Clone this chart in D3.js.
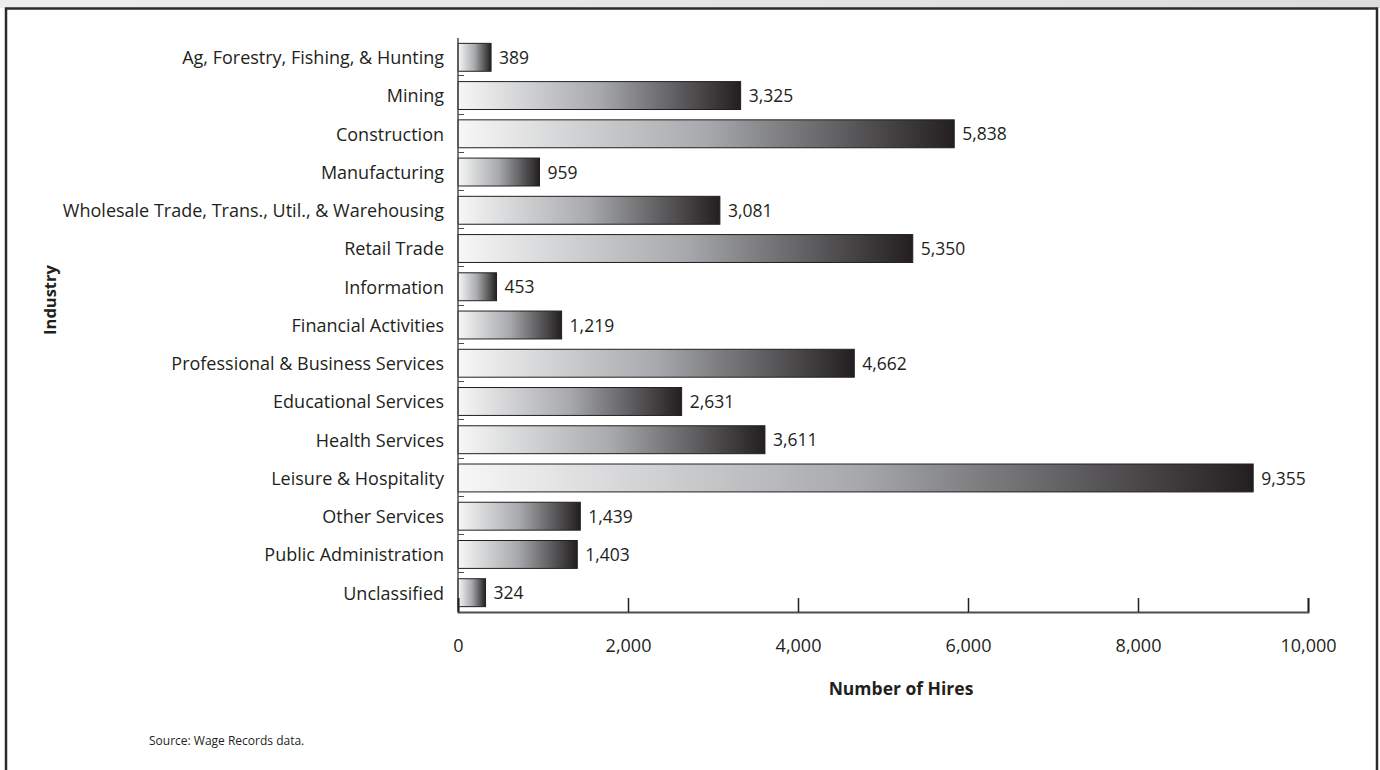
<!DOCTYPE html>
<meta charset="utf-8">
<head>
<style>
    body {margin: 0; background: #fff;}
    text {font-family: "Open Sans", sans-serif; fill: #231f20;}
</style>
</head>
<body>
<div class="chart"></div>
<script src="https://d3js.org/d3.v7.min.js"></script>
<script>
var industries = ["Ag, Forestry, Fishing, & Hunting", "Mining", "Construction", "Manufacturing",
    "Wholesale Trade, Trans., Util., & Warehousing", "Retail Trade", "Information",
    "Financial Activities", "Professional & Business Services", "Educational Services",
    "Health Services", "Leisure & Hospitality", "Other Services", "Public Administration",
    "Unclassified"];
var hires = [389, 3325, 5838, 959, 3081, 5350, 453, 1219, 4662, 2631, 3611, 9355, 1439, 1403, 324];
var xTicks = [0, 2000, 4000, 6000, 8000, 10000];

var W = 1380, H = 770;
var margin = {left: 458, right: 72, top: 38, bottom: 158};
var width = W - margin.left - margin.right,
    height = H - margin.top - margin.bottom;

var svg = d3.select(".chart").append("svg")
    .attr("width", W)
    .attr("height", H);

// page strip + frame
var bg = svg.append("defs").append("linearGradient").attr("id", "strip");
bg.append("stop").attr("offset", "0%").attr("stop-color", "#eeeeee");
bg.append("stop").attr("offset", "100%").attr("stop-color", "#dcdcdc");
svg.append("rect").attr("width", W).attr("height", 8).attr("fill", "url(#strip)");
svg.append("rect").attr("x", 6).attr("y", 8.5).attr("width", 1371).attr("height", 800)
    .attr("fill", "#fff").attr("stroke", "#2b2b2b").attr("stroke-width", 2.5);

var grad = svg.select("defs").append("linearGradient").attr("id", "barGrad");
grad.append("stop").attr("offset", "0%").attr("stop-color", "#f7f7f7");
grad.append("stop").attr("offset", "50%").attr("stop-color", "#a7a9ac");
grad.append("stop").attr("offset", "100%").attr("stop-color", "#231f20");

var g = svg.append("g").attr("transform", "translate(" + margin.left + "," + margin.top + ")");

var x = d3.scaleLinear().domain([0, 10000]).range([0, 850]);
var y = d3.scaleBand().domain(industries).range([0, height]).paddingInner(0.27).paddingOuter(0.14);

var data = industries.map(function (d, i) { return {name: d, value: hires[i]}; });

g.selectAll(".bar").data(data).enter().append("rect")
    .attr("class", "bar")
    .attr("x", x(0))
    .attr("y", function (d) { return y(d.name); })
    .attr("width", function (d) { return x(d.value); })
    .attr("height", y.bandwidth())
    .attr("fill", "url(#barGrad)")
    .attr("stroke", "#231f20")
    .attr("stroke-width", 1);

g.selectAll(".val").data(data).enter().append("text")
    .attr("class", "val")
    .attr("x", function (d) { return x(d.value) + 8; })
    .attr("y", function (d) { return y(d.name) + y.bandwidth() / 2; })
    .attr("dy", "0.38em")
    .style("font-size", "17.5px")
    .text(function (d) { return d3.format(",")(d.value); });

// category labels
g.selectAll(".cat").data(industries).enter().append("text")
    .attr("class", "cat")
    .attr("x", -14)
    .attr("y", function (d) { return y(d) + y.bandwidth() / 2; })
    .attr("dy", "0.38em")
    .attr("text-anchor", "end")
    .style("font-size", "18px")
    .text(function (d) { return d; });

// left axis line with small ticks between bars
g.append("line").attr("x1", 0).attr("x2", 0).attr("y1", 0).attr("y2", height)
    .attr("stroke", "#4d4d4f").attr("stroke-width", 1.5);
g.selectAll(".ytick").data(industries.slice(0, -1)).enter().append("line")
    .attr("x1", 0).attr("x2", 6)
    .attr("y1", function (d) { return Math.round(y(d) + y.bandwidth() + 4) + 0.5; })
    .attr("y2", function (d) { return Math.round(y(d) + y.bandwidth() + 4) + 0.5; })
    .attr("stroke", "#4d4d4f");

// bottom axis
var xAxis = d3.axisBottom(x).tickValues(xTicks).tickSize(-14).tickPadding(27)
    .tickFormat(d3.format(","));
var ax = g.append("g").attr("transform", "translate(0," + height + ")").call(xAxis);
ax.select(".domain").attr("stroke", "#4d4d4f").attr("stroke-width", 2);
ax.selectAll(".tick line").attr("stroke", "#231f20").attr("stroke-width", 1.5);
ax.selectAll(".tick text").style("font-size", "18px").attr("fill", "#231f20")
    .style("font-family", "'Open Sans', sans-serif");

svg.append("text").attr("x", 901).attr("y", 695).attr("text-anchor", "middle")
    .style("font-size", "17.5px").style("font-weight", "bold").text("Number of Hires");

svg.append("text").attr("transform", "translate(56,300) rotate(-90)").attr("text-anchor", "middle")
    .style("font-size", "16.5px").style("font-weight", "bold").text("Industry");

svg.append("text").attr("x", 149).attr("y", 745)
    .style("font-size", "12px").text("Source: Wage Records data.");
</script>
</body>
